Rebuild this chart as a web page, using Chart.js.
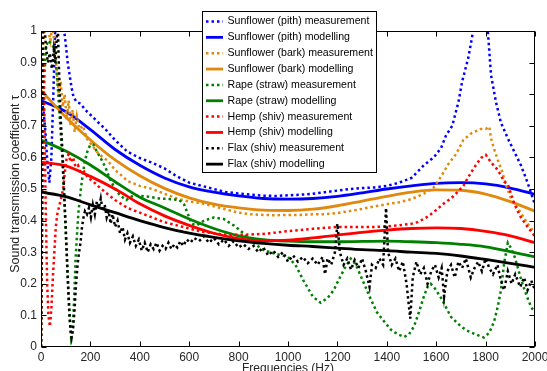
<!DOCTYPE html>
<html>
<head>
<meta charset="utf-8">
<script src="https://cdn.jsdelivr.net/npm/chart.js@4.4.0/dist/chart.umd.min.js"></script>
<style>
  html, body { margin: 0; padding: 0; background: #fff; overflow: hidden; }
  #wrap { width: 555px; height: 378px; }
</style>
</head>
<body>
<div id="wrap"><canvas id="chart" width="555" height="378"></canvas></div>
<script>
// Frequencies (Hz) / transmission coefficient
const xTicks = [0, 200, 400, 600, 800, 1000, 1200, 1400, 1600, 1800, 2000];
const yTicks = [0, 0.1, 0.2, 0.3, 0.4, 0.5, 0.6, 0.7, 0.8, 0.9, 1];

const modelHz = [0, 100, 200, 300, 400, 500, 600, 700, 800, 900, 1000, 1100, 1200, 1300, 1400, 1500, 1600, 1700, 1800, 1900, 2000];
const pithModel = [0.78, 0.745, 0.688, 0.625, 0.575, 0.535, 0.507, 0.49, 0.478, 0.47, 0.468, 0.47, 0.477, 0.488, 0.5, 0.51, 0.518, 0.52, 0.516, 0.503, 0.483];
const barkModel = [0.812, 0.728, 0.655, 0.592, 0.542, 0.502, 0.472, 0.452, 0.44, 0.433, 0.432, 0.436, 0.447, 0.462, 0.477, 0.49, 0.497, 0.496, 0.484, 0.46, 0.43];
const rapeModel = [0.655, 0.62, 0.576, 0.523, 0.474, 0.44, 0.405, 0.375, 0.352, 0.34, 0.335, 0.333, 0.333, 0.334, 0.335, 0.333, 0.33, 0.325, 0.317, 0.302, 0.285];
const hempModel = [0.585, 0.573, 0.54, 0.5, 0.453, 0.415, 0.385, 0.36, 0.343, 0.336, 0.338, 0.345, 0.354, 0.363, 0.37, 0.375, 0.377, 0.375, 0.366, 0.352, 0.33];
const flaxModel = [0.49, 0.476, 0.45, 0.425, 0.4, 0.378, 0.36, 0.347, 0.336, 0.328, 0.322, 0.318, 0.313, 0.308, 0.305, 0.3, 0.296, 0.288, 0.277, 0.265, 0.252];

// measurements: [Hz, tau]
const pithMeas = [[3,0.78],[10,0.75],[18,0.68],[26,0.58],[34,0.52],[42,0.6],[50,0.8],[58,1.02],[66,1.08],[80,1.08],[94,1.0],[100,0.96],[108,0.9],[116,0.86],[124,0.82],[132,0.79],[145,0.775],[160,0.77],[180,0.75],[200,0.735],[230,0.712],[260,0.69],[300,0.655],[350,0.618],[400,0.598],[450,0.583],[500,0.565],[550,0.54],[600,0.52],[650,0.51],[700,0.5],[750,0.49],[800,0.486],[850,0.482],[900,0.479],[950,0.478],[1000,0.48],[1050,0.482],[1100,0.485],[1150,0.49],[1200,0.495],[1250,0.5],[1300,0.503],[1350,0.505],[1400,0.51],[1450,0.52],[1500,0.535],[1550,0.575],[1590,0.6],[1620,0.63],[1640,0.67],[1665,0.7],[1690,0.775],[1705,0.84],[1730,0.915],[1745,0.98],[1760,1.05],[1780,1.08],[1800,1.05],[1810,0.99],[1822,0.86],[1842,0.775],[1862,0.71],[1890,0.66],[1915,0.62],[1943,0.575],[1970,0.52],[2000,0.45]];
const barkMeas = [[0,0],[4,0.3],[8,0.7],[12,1.02],[20,1.05],[30,1.0],[38,0.97],[46,1.02],[56,0.95],[64,0.87],[72,0.8],[80,0.84],[88,0.76],[96,0.8],[104,0.72],[112,0.78],[120,0.7],[128,0.75],[136,0.68],[145,0.73],[155,0.69],[170,0.7],[185,0.66],[200,0.645],[226,0.618],[250,0.6],[270,0.59],[300,0.56],[330,0.54],[350,0.525],[400,0.51],[450,0.5],[500,0.485],[550,0.47],[600,0.46],[650,0.455],[700,0.445],[750,0.435],[800,0.425],[850,0.42],[900,0.418],[950,0.417],[1000,0.418],[1050,0.418],[1100,0.42],[1150,0.42],[1200,0.424],[1250,0.43],[1300,0.437],[1350,0.445],[1400,0.452],[1450,0.458],[1500,0.468],[1550,0.485],[1590,0.505],[1620,0.54],[1650,0.58],[1680,0.61],[1710,0.655],[1740,0.675],[1780,0.69],[1800,0.69],[1815,0.697],[1822,0.66],[1835,0.625],[1850,0.59],[1865,0.56],[1880,0.52],[1900,0.475],[1930,0.44],[1970,0.39],[2000,0.36]];
const rapeMeas = [[0,0],[5,0.4],[10,0.8],[20,0.95],[30,0.97],[40,0.96],[50,0.95],[60,0.9],[70,0.8],[78,0.7],[86,0.6],[92,0.5],[98,0.4],[104,0.3],[110,0.2],[116,0.1],[122,0.03],[128,0.05],[134,0.15],[140,0.28],[146,0.36],[152,0.43],[160,0.49],[168,0.54],[178,0.59],[190,0.625],[200,0.64],[212,0.64],[225,0.62],[240,0.6],[260,0.57],[280,0.53],[300,0.5],[320,0.48],[345,0.465],[375,0.48],[400,0.478],[440,0.475],[480,0.47],[520,0.468],[560,0.465],[580,0.45],[595,0.42],[610,0.39],[630,0.385],[660,0.4],[700,0.41],[740,0.405],[780,0.385],[820,0.36],[860,0.33],[900,0.307],[950,0.295],[1000,0.285],[1030,0.26],[1063,0.21],[1100,0.16],[1132,0.14],[1160,0.155],[1185,0.18],[1210,0.22],[1230,0.25],[1254,0.28],[1275,0.26],[1300,0.215],[1330,0.16],[1360,0.11],[1390,0.08],[1416,0.055],[1445,0.04],[1470,0.032],[1490,0.04],[1510,0.065],[1530,0.11],[1550,0.16],[1565,0.19],[1578,0.2],[1595,0.185],[1620,0.155],[1660,0.095],[1700,0.065],[1730,0.05],[1760,0.04],[1793,0.03],[1815,0.045],[1834,0.08],[1850,0.13],[1862,0.18],[1875,0.265],[1890,0.33],[1905,0.31],[1920,0.28],[1945,0.21],[1965,0.165],[1985,0.125],[2000,0.11]];
const hempMeas = [[0,0],[3,0.3],[6,0.7],[9,0.9],[12,0.85],[16,0.6],[20,0.4],[25,0.2],[30,0.1],[36,0.065],[42,0.12],[48,0.22],[54,0.3],[60,0.38],[66,0.42],[72,0.44],[78,0.46],[84,0.48],[90,0.5],[96,0.55],[104,0.6],[112,0.61],[120,0.585],[130,0.6],[140,0.57],[150,0.575],[160,0.55],[175,0.555],[190,0.535],[210,0.525],[230,0.51],[260,0.49],[300,0.465],[350,0.44],[400,0.425],[450,0.41],[500,0.395],[550,0.385],[600,0.375],[650,0.365],[700,0.36],[750,0.355],[800,0.355],[850,0.356],[900,0.358],[950,0.362],[1000,0.367],[1050,0.37],[1100,0.374],[1150,0.377],[1200,0.38],[1250,0.38],[1300,0.38],[1350,0.38],[1400,0.382],[1450,0.385],[1500,0.39],[1525,0.395],[1560,0.41],[1590,0.427],[1610,0.44],[1632,0.455],[1660,0.47],[1686,0.49],[1710,0.51],[1728,0.535],[1753,0.567],[1781,0.598],[1801,0.608],[1821,0.585],[1842,0.567],[1862,0.544],[1875,0.523],[1890,0.515],[1905,0.48],[1915,0.455],[1930,0.43],[1943,0.41],[1970,0.38],[2000,0.35]];
const flaxMeas = [[0,0],[3,0.4],[6,0.9],[9,1.05],[14,1.02],[20,0.95],[28,0.9],[36,0.93],[44,0.88],[52,0.94],[58,0.9],[64,0.98],[68,1.02],[72,0.9],[76,0.8],[80,0.72],[84,0.66],[88,0.6],[92,0.52],[96,0.45],[100,0.38],[104,0.3],[108,0.22],[112,0.15],[116,0.09],[120,0.05],[124,0.03],[130,0.06],[136,0.12],[142,0.2],[148,0.26],[154,0.3],[160,0.33],[166,0.38],[172,0.41],[178,0.43],[186,0.42],[194,0.44],[202,0.41],[210,0.45],[218,0.42],[226,0.46],[234,0.44],[242,0.47],[250,0.43],[258,0.45],[266,0.41],[274,0.43],[282,0.39],[290,0.42],[300,0.38],[310,0.4],[320,0.36],[330,0.38],[340,0.34],[350,0.36],[360,0.33],[372,0.35],[384,0.32],[396,0.34],[408,0.305],[420,0.33],[432,0.3],[444,0.325],[456,0.31],[468,0.33],[480,0.305],[492,0.32],[504,0.31],[516,0.33],[528,0.31],[540,0.325],[552,0.315],[564,0.335],[576,0.32],[590,0.34],[605,0.33],[620,0.345],[640,0.335],[660,0.35],[680,0.33],[700,0.345],[720,0.325],[740,0.34],[760,0.32],[780,0.335],[800,0.315],[820,0.325],[840,0.31],[860,0.32],[880,0.3],[900,0.315],[920,0.29],[940,0.305],[960,0.285],[980,0.3],[1000,0.27],[1020,0.29],[1040,0.27],[1060,0.285],[1080,0.265],[1100,0.28],[1120,0.26],[1140,0.285],[1150,0.23],[1160,0.28],[1175,0.26],[1190,0.3],[1200,0.39],[1210,0.3],[1225,0.26],[1240,0.28],[1255,0.245],[1270,0.275],[1285,0.25],[1300,0.28],[1315,0.24],[1330,0.19],[1340,0.26],[1355,0.25],[1370,0.28],[1385,0.26],[1397,0.44],[1405,0.3],[1420,0.26],[1435,0.28],[1450,0.24],[1465,0.27],[1480,0.2],[1495,0.09],[1505,0.22],[1520,0.27],[1535,0.23],[1550,0.25],[1565,0.2],[1580,0.24],[1595,0.26],[1610,0.22],[1622,0.25],[1632,0.16],[1645,0.24],[1660,0.26],[1675,0.22],[1690,0.27],[1705,0.25],[1720,0.28],[1740,0.22],[1755,0.25],[1770,0.27],[1785,0.24],[1800,0.28],[1815,0.25],[1830,0.23],[1848,0.26],[1862,0.21],[1875,0.18],[1890,0.24],[1905,0.2],[1920,0.23],[1940,0.19],[1956,0.22],[1970,0.18],[1985,0.21],[2000,0.18]];

const labels = [
  'Sunflower (pith) measurement', 'Sunflower (pith) modelling',
  'Sunflower (bark) measurement', 'Sunflower (bark) modelling',
  'Rape (straw) measurement', 'Rape (straw) modelling',
  'Hemp (shiv) measurement', 'Hemp (shiv) modelling',
  'Flax (shiv) measurement', 'Flax (shiv) modelling'
];
const colors = ['#0000ff', '#e0890c', '#008000', '#ff0000', '#000000'];
const yTitle = 'Sound transmission coefficient τ';
const xTitle = 'Frequencies (Hz)';

const DOT = [2.5, 3];
const font = '"Liberation Sans", Arial, Helvetica, sans-serif';

const pairs = arr => arr.map(([x, y]) => ({ x, y }));
const model = arr => modelHz.map((x, i) => ({ x, y: arr[i] }));

const series = [
  pairs(pithMeas), model(pithModel),
  pairs(barkMeas), model(barkModel),
  pairs(rapeMeas), model(rapeModel),
  pairs(hempMeas), model(hempModel),
  pairs(flaxMeas), model(flaxModel)
];

const datasets = series.map((data, i) => {
  const meas = i % 2 === 0;
  return {
    label: labels[i],
    data: data,
    borderColor: colors[Math.floor(i / 2)],
    borderWidth: meas ? 2.5 : 2.8,
    borderDash: meas ? DOT : [],
    borderCapStyle: 'butt',
    pointRadius: 0,
    tension: 0,
    cubicInterpolationMode: meas ? 'default' : 'monotone',
    fill: false,
    order: 10 - i
  };
});

// box, inward ticks, y title and the legend box, MATLAB style
const frame = {
  id: 'frame',
  afterDatasetsDraw(chart) {
    const { ctx, chartArea: a, scales: { x, y } } = chart;
    const L = Math.round(a.left) + 0.5, R = Math.round(a.right) - 0.5;
    const T = Math.round(a.top) + 0.5, B = Math.round(a.bottom) - 0.5;
    ctx.save();
    ctx.strokeStyle = '#000';
    ctx.lineWidth = 1;
    ctx.beginPath();
    xTicks.forEach(v => {
      const px = Math.round(x.getPixelForValue(v)) + 0.5;
      ctx.moveTo(px, B); ctx.lineTo(px, B - 5);
      ctx.moveTo(px, T); ctx.lineTo(px, T + 5);
    });
    yTicks.forEach(v => {
      const py = Math.round(y.getPixelForValue(v)) + 0.5;
      ctx.moveTo(L, py); ctx.lineTo(L + 5, py);
      ctx.moveTo(R, py); ctx.lineTo(R - 5, py);
    });
    ctx.stroke();
    ctx.strokeRect(L, T, R - L, B - T);

    ctx.translate(15.5, 184);
    ctx.rotate(-Math.PI / 2);
    ctx.font = '12.5px ' + font;
    ctx.fillStyle = '#262626';
    ctx.textAlign = 'center';
    ctx.textBaseline = 'middle';
    ctx.fillText(yTitle, 0, 0);
    ctx.restore();
  },
  afterDraw(chart) {
    const { ctx } = chart;
    const bx = 202, by = 11, bw = 174, bh = 161;
    ctx.save();
    ctx.fillStyle = '#fff';
    ctx.fillRect(bx, by, bw, bh);
    ctx.strokeStyle = '#000';
    ctx.lineWidth = 1;
    ctx.strokeRect(bx + 0.5, by + 0.5, bw, bh);
    ctx.font = '10.6px ' + font;
    ctx.textBaseline = 'middle';
    ctx.fillStyle = '#000';
    chart.data.datasets.forEach((ds, i) => {
      const cy = 21.5 + i * 15.85;
      ctx.beginPath();
      ctx.strokeStyle = ds.borderColor;
      ctx.lineWidth = ds.borderWidth;
      ctx.setLineDash(ds.borderDash);
      ctx.moveTo(206, cy);
      ctx.lineTo(223, cy);
      ctx.stroke();
      ctx.setLineDash([]);
      ctx.fillText(ds.label, 227.5, cy);
    });
    ctx.restore();
  }
};

new Chart(document.getElementById('chart'), {
  type: 'line',
  data: { datasets },
  plugins: [frame],
  options: {
    responsive: false,
    animation: false,
    layout: { padding: { top: 31, right: 20, left: 0, bottom: 0 } },
    plugins: { legend: { display: false }, tooltip: { enabled: false } },
    scales: {
      x: {
        type: 'linear',
        min: 0, max: 2000,
        afterBuildTicks: s => { s.ticks = xTicks.map(v => ({ value: v })); },
        afterFit: s => { s.height = 31; },
        grid: { display: false, drawTicks: false },
        border: { display: false },
        ticks: { padding: 3, color: '#262626', font: { family: font, size: 12 }, maxRotation: 0, callback: v => String(v) },
        title: { display: true, text: xTitle, color: '#262626', font: { family: font, size: 12 }, padding: { top: 0, bottom: 2 } }
      },
      y: {
        min: 0, max: 1,
        afterBuildTicks: s => { s.ticks = yTicks.map(v => ({ value: v })); },
        afterFit: s => { s.width = 41; },
        grid: { display: false, drawTicks: false },
        border: { display: false },
        ticks: { padding: 4, color: '#262626', font: { family: font, size: 12 }, callback: v => String(Math.round(v * 10) / 10) }
      }
    }
  }
});
</script>
</body>
</html>
